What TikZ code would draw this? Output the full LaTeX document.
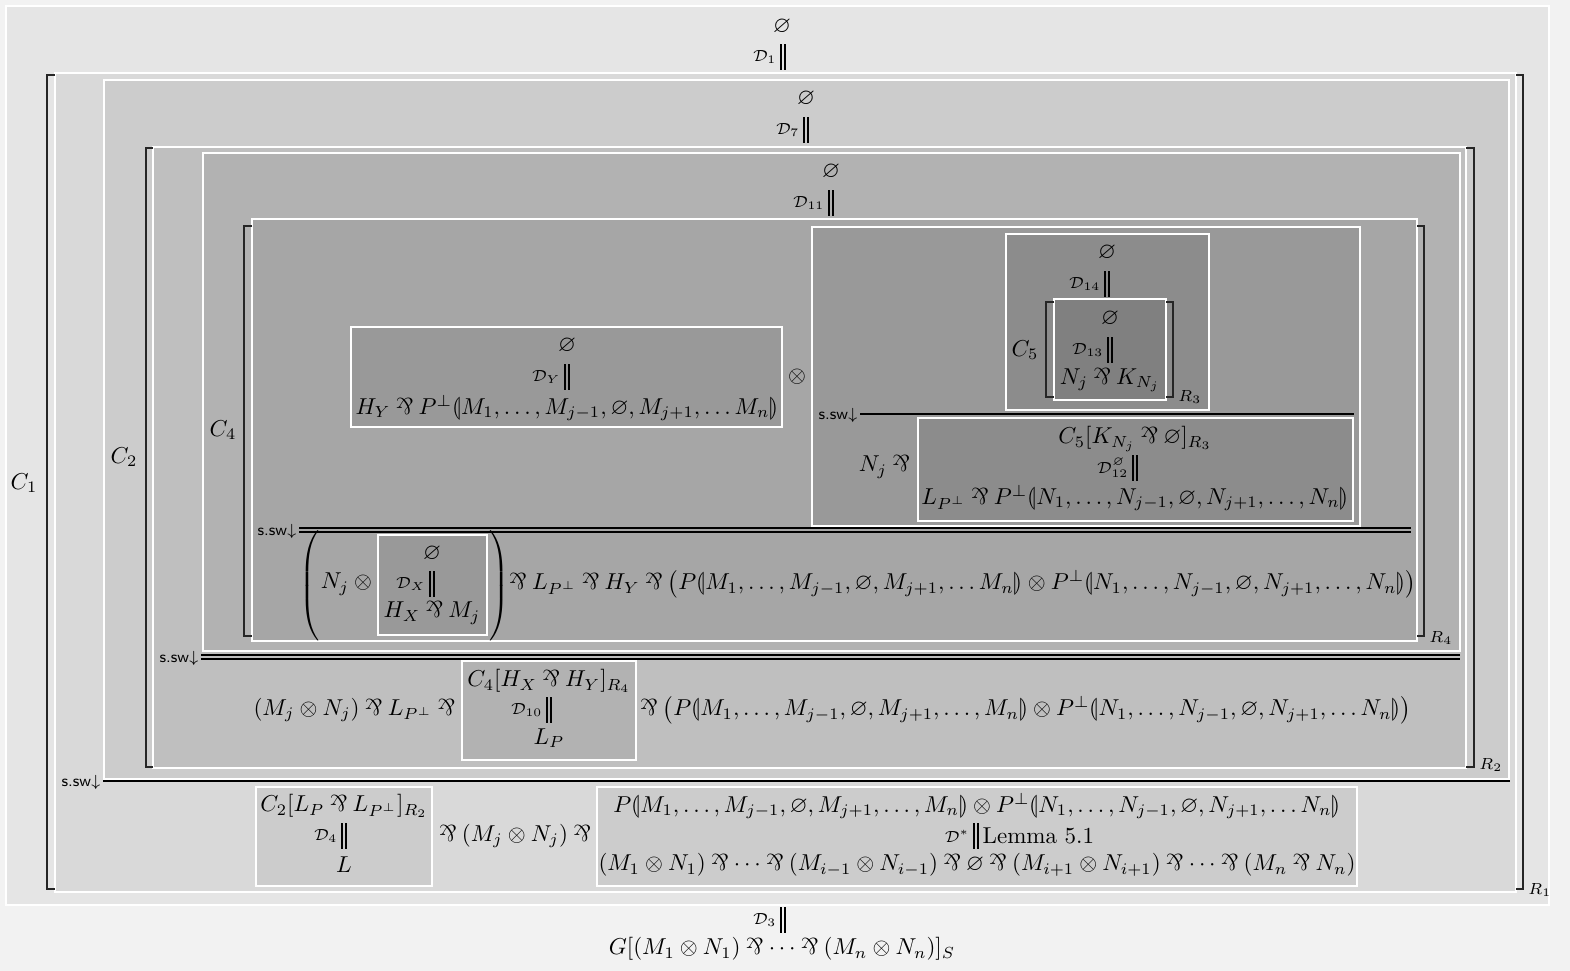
\documentclass[tikz,border=0pt]{standalone}
\usepackage{amsmath}
\usepackage{amssymb}
\usepackage{stmaryrd}
\usetikzlibrary{positioning}
\newcommand{\mpar}{\mathbin{\rotatebox[origin=c]{180}{\&}}}
\newcommand{\dbar}{\rule[-3pt]{1.1pt}{11pt}\hspace{0.8pt}\rule[-3pt]{1.1pt}{11pt}}
\newcommand{\ssw}{s.sw$\downarrow$}

\begin{document}
\begin{tikzpicture}[x=0.435pt, y=-0.435pt,
  box/.style={draw=white, line width=0.9pt},
  txt/.style={inner sep=0pt},
  brk/.style={line width=0.9pt, black!85},
  srule/.style={line width=1.3pt},
  drule/.style={line width=0.8pt, double distance=0.9pt},
  swlab/.style={inner sep=0pt, anchor=east, font=\scriptsize\sffamily}]
  \useasboundingbox (0,0) rectangle (1570,971);
  \fill[black!5] (0,0) rectangle (1570,971);
  \path[box, fill=black!10] (6,6) rectangle (1549,905);

  % top of the proof
  \node[txt] (e1) at (782,27) {$\varnothing$};
  \node[txt] (b1) at (783,57) {\dbar};
  \node[txt, left=1pt of b1] (d1) {$\scriptstyle\mathcal{D}_1$};

  % context C1
  \node[txt] (c1) at (24,483) {$C_1$};
  \path[box, fill=black!15] (55,73) rectangle (1516,892);
  \draw[brk] (55,75) -- (47,75) -- (47,889) -- (55,889);
  \draw[brk] (1516,75) -- (1523,75) -- (1523,889) -- (1516,889);
  \node[txt, anchor=west] (r1) at (1528,890) {$\scriptstyle R_1$};

  \node[swlab] (sw1) at (101,782) {\ssw};
  \coordinate (q1) at (1510,781);
  \draw[srule] ([xshift=1pt]sw1.east |- q1) -- (q1);

  \path[box, fill=black!20] (256,787) rectangle (432,886);
  \node[txt] (l1) at (344,806) {$C_2[L_P \mpar L_{P^\perp}]_{R_2}$};
  \node[txt] (b4) at (344,836) {\dbar};
  \node[txt, left=1pt of b4] (d4) {$\scriptstyle\mathcal{D}_4$};
  \node[txt] (l3) at (344,865) {$L$};
  \node[txt] (m1) at (515,836) {${}\mpar(M_j\otimes N_j)\mpar{}$};
  \path[box, fill=black!20] (597,787) rectangle (1357,886);
  \node[txt] (p1) at (977,806) {$P\llparenthesis M_1,\dots,M_{j-1},\varnothing,M_{j+1},\dots,M_n\rrparenthesis\otimes P^\perp\llparenthesis N_1,\dots,N_{j-1},\varnothing,N_{j+1},\dots N_n\rrparenthesis$};
  \node[txt] (bs) at (976,836) {\dbar};
  \node[txt, left=1pt of bs] (ds) {$\scriptstyle\mathcal{D}^*$};
  \node[txt, right=1pt of bs] (lem) {Lemma 5.1};
  \node[txt] (p3) at (977,865) {$(M_1\otimes N_1)\mpar\cdots\mpar(M_{i-1}\otimes N_{i-1})\mpar\varnothing\mpar(M_{i+1}\otimes N_{i+1})\mpar\cdots\mpar(M_n\mpar N_n)$};

  % derivation D7
  \path[box, fill=black!20] (104,80) rectangle (1509,779);
  \node[txt] (e7) at (806,99) {$\varnothing$};
  \node[txt] (b7) at (806,130) {\dbar};
  \node[txt, left=1pt of b7] (d7) {$\scriptstyle\mathcal{D}_7$};

  % context C2
  \node[txt] (c2) at (124,457) {$C_2$};
  \path[box, fill=black!25] (153,147) rectangle (1466,768);
  \draw[brk] (153,148) -- (146,148) -- (146,767) -- (153,767);
  \draw[brk] (1466,148) -- (1474,148) -- (1474,767) -- (1466,767);
  \node[txt, anchor=west] (r2) at (1479,765) {$\scriptstyle R_2$};

  \node[swlab] (sw2) at (199,658) {\ssw};
  \coordinate (q2) at (1460,657);
  \draw[drule, double=black!25] ([xshift=1pt]sw2.east |- q2) -- (q2);

  \node[txt] (m2) at (357,710) {$(M_j\otimes N_j)\mpar L_{P^\perp}\mpar{}$};
  \path[box, fill=black!30] (462,661) rectangle (636,760);
  \node[txt] (l4) at (549,681) {$C_4[H_X\mpar H_Y]_{R_4}$};
  \node[txt] (b10) at (549,710) {\dbar};
  \node[txt, left=1pt of b10] (d10) {$\scriptstyle\mathcal{D}_{10}$};
  \node[txt] (l6) at (549,738) {$L_P$};
  \node[txt] (m3) at (1023,710) {${}\mpar\bigl(P\llparenthesis M_1,\dots,M_{j-1},\varnothing,M_{j+1},\dots,M_n\rrparenthesis\otimes P^\perp\llparenthesis N_1,\dots,N_{j-1},\varnothing,N_{j+1},\dots N_n\rrparenthesis\bigr)$};

  % derivation D11
  \path[box, fill=black!30] (203,153) rectangle (1460,651);
  \node[txt] (e11) at (831,172) {$\varnothing$};
  \node[txt] (b11) at (831,203) {\dbar};
  \node[txt, left=1pt of b11] (d11) {$\scriptstyle\mathcal{D}_{11}$};

  % context C4
  \node[txt] (c4) at (223,430) {$C_4$};
  \path[box, fill=black!35] (252,219) rectangle (1417,641);
  \draw[brk] (252,226) -- (244,226) -- (244,636) -- (252,636);
  \draw[brk] (1417,226) -- (1424,226) -- (1424,636) -- (1417,636);
  \node[txt, anchor=west] (r4) at (1429,638) {$\scriptstyle R_4$};

  \path[box, fill=black!40] (351,327) rectangle (782,427);
  \node[txt] (ey) at (567,346) {$\varnothing$};
  \node[txt] (by) at (567,377) {\dbar};
  \node[txt, left=1pt of by] (dy) {$\scriptstyle\mathcal{D}_Y$};
  \node[txt] (hy) at (567,408) {$H_Y\mpar P^\perp\llparenthesis M_1,\dots,M_{j-1},\varnothing,M_{j+1},\dots M_n\rrparenthesis$};
  \node[txt] (ot) at (797,377) {$\otimes$};

  \path[box, fill=black!40] (812,227) rectangle (1360,526);
  \path[box, fill=black!45] (1006,234) rectangle (1209,410);
  \node[txt] (e14) at (1107,253) {$\varnothing$};
  \node[txt] (b14) at (1107,284) {\dbar};
  \node[txt, left=1pt of b14] (d14) {$\scriptstyle\mathcal{D}_{14}$};

  % context C5
  \node[txt] (c5) at (1025,350) {$C_5$};
  \path[box, fill=black!50] (1054,299) rectangle (1166,400);
  \draw[brk] (1054,302) -- (1046,302) -- (1046,397) -- (1054,397);
  \draw[brk] (1166,302) -- (1173,302) -- (1173,397) -- (1166,397);
  \node[txt, anchor=west] (r3) at (1178,397) {$\scriptstyle R_3$};
  \node[txt] (e13) at (1110,319) {$\varnothing$};
  \node[txt] (b13) at (1110,350) {\dbar};
  \node[txt, left=1pt of b13] (d13) {$\scriptstyle\mathcal{D}_{13}$};
  \node[txt] (nk) at (1110,380) {$N_j\mpar K_{N_j}$};

  \node[swlab] (sw3) at (858,415) {\ssw};
  \coordinate (q3) at (1354,414);
  \draw[srule] ([xshift=1pt]sw3.east |- q3) -- (q3);

  \node[txt] (nj) at (887,467) {$N_j\mpar{}$};
  \path[box, fill=black!45] (918,418) rectangle (1353,521);
  \node[txt] (k5) at (1135,439) {$C_5[K_{N_j}\mpar\varnothing]_{R_3}$};
  \node[txt] (b12) at (1135,468) {\dbar};
  \node[txt, left=1pt of b12] (d12) {$\scriptstyle\mathcal{D}_{12}^{\varnothing}$};
  \node[txt] (lp) at (1135,498) {$L_{P^\perp}\mpar P^\perp\llparenthesis N_1,\dots,N_{j-1},\varnothing,N_{j+1},\dots,N_n\rrparenthesis$};

  \node[swlab] (sw4) at (297,531) {\ssw};
  \coordinate (q4) at (1411,530);
  \draw[drule, double=black!35] ([xshift=1pt]sw4.east |- q4) -- (q4);

  % bottom row of C4
  \node[txt] (pl) at (311,586) {$\left(\vrule height 21pt depth 21pt width 0pt\right.$};
  \node[txt] (njo) at (349,584) {$N_j\otimes{}$};
  \path[box, fill=black!40] (378,535) rectangle (487,635);
  \node[txt] (ex) at (432,554) {$\varnothing$};
  \node[txt] (bx) at (432,584) {\dbar};
  \node[txt, left=1pt of bx] (dx) {$\scriptstyle\mathcal{D}_X$};
  \node[txt] (hx) at (432,613) {$H_X\mpar M_j$};
  \node[txt] (pr) at (498,586) {$\left.\vrule height 21pt depth 21pt width 0pt\right)$};
  \node[txt] (m4) at (960,584) {${}\mpar L_{P^\perp}\mpar H_Y\mpar\bigl(P\llparenthesis M_1,\dots,M_{j-1},\varnothing,M_{j+1},\dots M_n\rrparenthesis\otimes P^\perp\llparenthesis N_1,\dots,N_{j-1},\varnothing,N_{j+1},\dots,N_n\rrparenthesis\bigr)$};

  % conclusion
  \node[txt] (b3) at (783,920) {\dbar};
  \node[txt, left=1pt of b3] (d3) {$\scriptstyle\mathcal{D}_3$};
  \node[txt] (g) at (782,949) {$G[(M_1\otimes N_1)\mpar\cdots\mpar(M_n\otimes N_n)]_S$};
\end{tikzpicture}
\end{document}
